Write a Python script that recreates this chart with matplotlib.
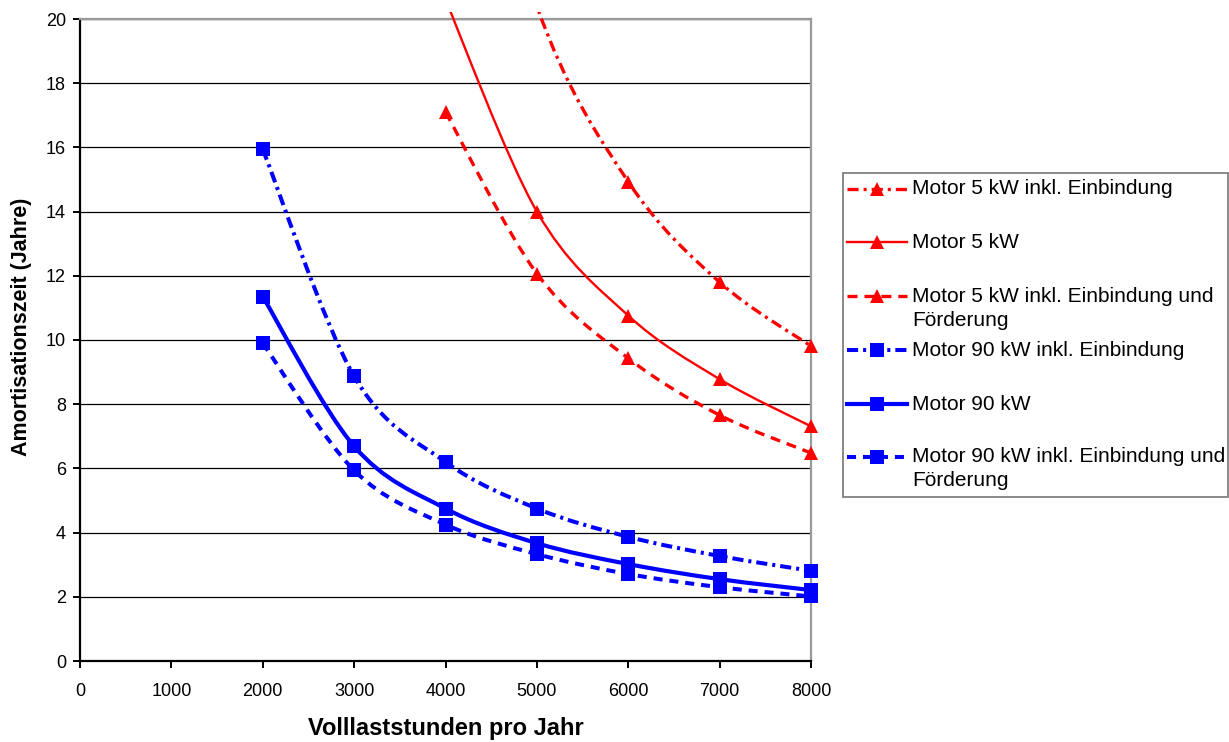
import numpy as np
import matplotlib
matplotlib.use('Agg')
import matplotlib.pyplot as plt
from matplotlib.path import Path
from matplotlib.patches import PathPatch, Rectangle
from matplotlib.lines import Line2D

plt.rcParams['font.family'] = ['Liberation Sans', 'DejaVu Sans']
plt.rcParams['lines.scale_dashes'] = False

# ---------------- data ----------------
hours = [2000, 3000, 4000, 5000, 6000, 7000, 8000]
nan = np.nan
m5_einb = [nan, nan, 30.9, 20.4, 14.93, 11.80, 9.81]
m5 = [nan, nan, 20.6, 14.00, 10.76, 8.78, 7.31]
m5_foerd = [nan, nan, 17.10, 12.07, 9.43, 7.66, 6.48]
m90_einb = [15.94, 8.87, 6.20, 4.75, 3.87, 3.27, 2.81]
m90 = [11.35, 6.69, 4.75, 3.67, 3.02, 2.55, 2.21]
m90_foerd = [9.90, 5.94, 4.25, 3.33, 2.71, 2.30, 2.01]

series_labels = [
    "Motor 5 kW inkl. Einbindung",
    "Motor 5 kW",
    "Motor 5 kW inkl. Einbindung und\nFörderung",
    "Motor 90 kW inkl. Einbindung",
    "Motor 90 kW",
    "Motor 90 kW inkl. Einbindung und\nFörderung",
]
x_ticks = list(range(0, 8001, 1000))
y_ticks = list(range(0, 21, 2))
x_label = "Volllaststunden pro Jahr"
y_label = "Amortisationszeit (Jahre)"

RED = '#FF0000'
BLUE = '#0000FF'
DASH = (0, (7.2, 5.0))
DASHDOT = (0, (8.0, 3.6, 2.2, 3.6))
BDASH = (0, (6.5, 5.0))

styles = [
    dict(color=RED, ls=DASHDOT, lw=2.4, marker='^'),
    dict(color=RED, ls='-', lw=1.7, marker='^'),
    dict(color=RED, ls=DASH, lw=2.4, marker='^'),
    dict(color=BLUE, ls=DASHDOT, lw=2.9, marker='s'),
    dict(color=BLUE, ls='-', lw=3.0, marker='s'),
    dict(color=BLUE, ls=BDASH, lw=2.9, marker='s'),
]
data = [m5_einb, m5, m5_foerd, m90_einb, m90, m90_foerd]

W, H = 1229, 742
fig = plt.figure(figsize=(W / 100, H / 100), dpi=100)
fig.patch.set_facecolor('white')
L, R, T, B = 80, 811, 19, 661
ax = fig.add_axes([L / W, 1 - B / H, (R - L) / W, (B - T) / H])
ax.set_xlim(0, 8000)
ax.set_ylim(0, 20)
ax.set_xticks(x_ticks)
ax.set_yticks(y_ticks)
ax.set_xticklabels([str(v) for v in x_ticks])
ax.set_yticklabels([str(v) for v in y_ticks])
ax.yaxis.grid(True, color='black', linewidth=0.9)
ax.set_axisbelow(True)
for s in ('top', 'right'):
    ax.spines[s].set_color('#9a9a9a')
    ax.spines[s].set_linewidth(1.6)
for s in ('left', 'bottom'):
    ax.spines[s].set_color('black')
    ax.spines[s].set_linewidth(1.6)
ax.tick_params(direction='out', length=5, width=1.4, labelsize=13, colors='black')
ax.tick_params(axis='x', pad=10.5)
ax.tick_params(axis='y', pad=5)


def smooth_path(xs, ys):
    pts = np.array([(a, b) for a, b in zip(xs, ys) if not np.isnan(b)], float)
    n = len(pts)
    verts = [pts[0]]
    codes = [Path.MOVETO]
    for i in range(n - 1):
        p0 = pts[i - 1] if i > 0 else pts[i]
        p1 = pts[i]
        p2 = pts[i + 1]
        p3 = pts[i + 2] if i + 2 < n else pts[i + 1]
        c1 = p1 + (p2 - p0) / 6.0
        c2 = p2 - (p3 - p1) / 6.0
        verts += [c1, c2, p2]
        codes += [Path.CURVE4] * 3
    return Path(verts, codes)


clip = Rectangle((0, 0), 1, 1 + 7 / (B - T), transform=ax.transAxes)
ymax = ax.get_ylim()[1]
for vals, st in zip(data, styles):
    pp = PathPatch(smooth_path(hours, vals), fill=False, edgecolor=st['color'],
                   linestyle=st['ls'], linewidth=st['lw'], capstyle='butt',
                   joinstyle='round', zorder=3)
    ax.add_patch(pp)
    pp.set_clip_path(clip)
    arr = np.array(vals, float)
    shown = np.where(arr <= ymax, arr, np.nan)
    ms = 10 if st['marker'] == '^' else 9.6
    ax.plot(hours, shown, linestyle='none', marker=st['marker'], markersize=ms,
            color=st['color'], markeredgewidth=0, zorder=4, clip_on=False)

fig.text((L + R) / 2 / W, 1 - 728 / H, x_label, ha='center', va='center',
         fontsize=17, fontweight='bold')
fig.text(22 / W, 1 - 327 / H, y_label, ha='center', va='center', rotation=90,
         fontsize=15.5, fontweight='bold')

# ---------------- legend ----------------
def fx(px):
    return px / W


def fy(py):
    return 1 - py / H


box = Rectangle((fx(843), fy(497)), fx(1228) - fx(843), fy(173) - fy(497),
                transform=fig.transFigure, facecolor='white', edgecolor='#808080',
                linewidth=1.3)
fig.add_artist(box)
rows = [189, 242, 296, 350, 404, 457]
for lab, st, ry in zip(series_labels, styles, rows):
    fig.add_artist(Line2D([fx(847), fx(907)], [fy(ry), fy(ry)], color=st['color'],
                          linestyle=st['ls'], linewidth=st['lw'],
                          transform=fig.transFigure))
    ms = 10 if st['marker'] == '^' else 9.6
    fig.add_artist(Line2D([fx(877)], [fy(ry)], color=st['color'], linestyle='none',
                          marker=st['marker'], markersize=ms, markeredgewidth=0,
                          transform=fig.transFigure))
    for k, line in enumerate(lab.split('\n')):
        fig.text(fx(912), fy(ry + 24 * k), line, ha='left', va='center',
                 fontsize=15)

fig.savefig('out.png', dpi=100)
